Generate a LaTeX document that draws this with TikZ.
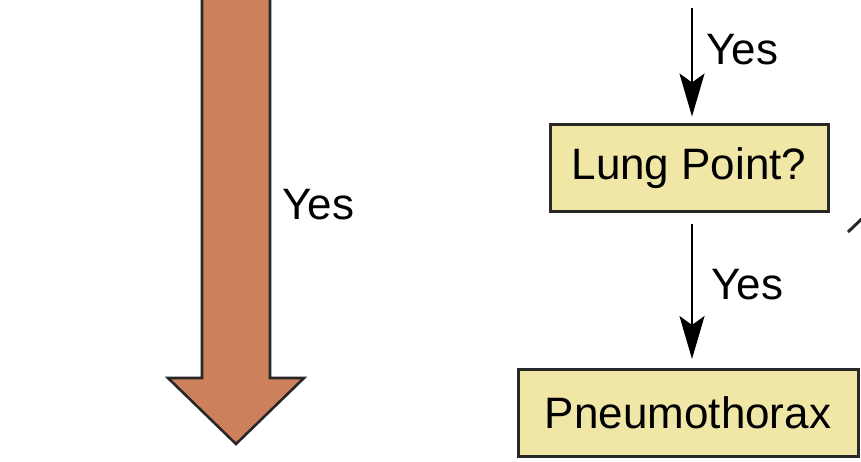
\documentclass[tikz,border=0pt]{standalone}
\usepackage{fontspec}
\setmainfont{Liberation Sans}
\usetikzlibrary{arrows.meta,calc}
\definecolor{arroworange}{RGB}{204,128,92}
\definecolor{boxyellow}{RGB}{240,230,166}
\definecolor{edgegray}{RGB}{40,40,40}
\begin{document}
\begin{tikzpicture}[x=1pt,y=1pt,
  lbl/.style={font=\fontsize{44}{50}\selectfont, inner sep=0pt, anchor=west},
  qbox/.style={draw=edgegray, line width=3pt, fill=boxyellow, inner sep=0pt,
    font=\fontsize{44}{50}\selectfont, minimum height=87pt},
  flow/.style={line width=2.2pt, -{Stealth[length=43pt,width=25pt,inset=9pt]}}]
\useasboundingbox (0,0) rectangle (861,-462);
\clip (0,0) rectangle (861,-462);
% big orange arrow
\draw[edgegray, line width=2.6pt, fill=arroworange, line join=miter]
  (202,10) -- (202,-378) -- (168,-378) -- (236,-444) -- (304,-378)
  -- (270,-378) -- (270,10) -- cycle;
\node[lbl] (yesbig) at (282,-205) {Yes};
% boxes
\node[qbox, minimum width=278pt] (lung) at (689,-168.5) {Lung Point?};
\node[qbox, minimum width=340pt] (pneumo) at (688,-413) {Pneumothorax};
% connectors
\coordinate (top) at (692,-8);
\draw[flow] (top) -- ($(top |- lung.north)+(0,7)$);
\node[lbl] (yes1) at (706,-50) {Yes};
\draw[flow] ($(top |- lung.south)+(0,-11)$) -- ($(top |- pneumo.north)+(0,9)$);
\node[lbl] (yes2) at (711,-285) {Yes};
% partial connector at right edge
\coordinate (frag) at (848,-232);
\draw[edgegray, line width=3pt] (frag) -- (870,-211);
\end{tikzpicture}
\end{document}
